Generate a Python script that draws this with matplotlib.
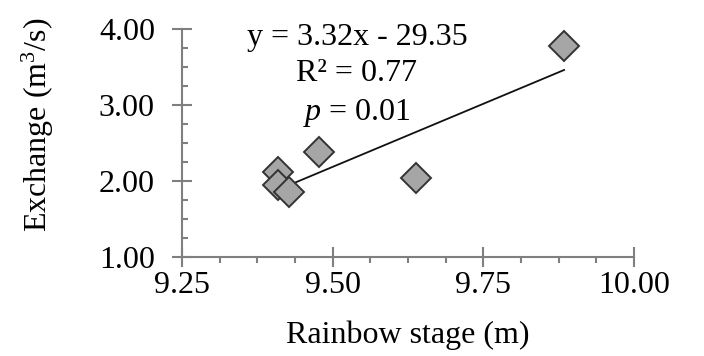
import numpy as np
import matplotlib.pyplot as plt
from matplotlib.ticker import MultipleLocator, FormatStrFormatter

# Dados
stage = [9.884, 9.478, 9.639, 9.410, 9.410, 9.428]
exchange = [3.78, 2.39, 2.04, 2.12, 1.95, 1.86]

slope = 3.32
intercept = -29.35
eq_lines = ["y = 3.32x - 29.35", "R² = 0.77", "$\\it{p}$ = 0.01"]
eq_y = [0.962, 0.808, 0.633]

plt.rcParams["font.family"] = ["Liberation Serif", "DejaVu Serif"]
plt.rcParams["mathtext.fontset"] = "custom"
plt.rcParams["mathtext.it"] = "Liberation Serif:italic"
plt.rcParams["mathtext.rm"] = "Liberation Serif"

fig = plt.figure(figsize=(7.04, 3.56), dpi=100)
ax = fig.add_axes([0.2585, 0.2772, 0.6421, 0.6405])

axis_color = "#7f7f7f"
fs = 23

# Linha de tendência
xs = np.array([min(stage), max(stage)])
ax.plot(xs, slope * xs + intercept, color="#111111", lw=1.3, zorder=2)

ax.plot(stage, exchange, linestyle="none", marker="D", markersize=15,
        markerfacecolor="#a6a6a6", markeredgecolor="#333333",
        markeredgewidth=1.4, zorder=3)

ax.set_xlim(9.25, 10.00)
ax.set_ylim(1.00, 4.00)
ax.xaxis.set_major_locator(MultipleLocator(0.25))
ax.xaxis.set_minor_locator(MultipleLocator(0.0625))
ax.yaxis.set_major_locator(MultipleLocator(1.0))
ax.yaxis.set_minor_locator(MultipleLocator(0.25))
ax.xaxis.set_major_formatter(FormatStrFormatter("%.2f"))
ax.yaxis.set_major_formatter(FormatStrFormatter("%.2f"))

for side in ["top", "right"]:
    ax.spines[side].set_visible(False)
for side in ["left", "bottom"]:
    ax.spines[side].set_color(axis_color)
    ax.spines[side].set_linewidth(1.5)

ax.tick_params(which="major", direction="inout", length=15, width=1.5,
               color=axis_color, labelsize=fs)
ax.tick_params(axis="y", which="major", pad=12)
ax.tick_params(axis="x", which="major", pad=2)
ax.tick_params(axis="y", which="minor", direction="in", length=4.5,
               width=1.5, color=axis_color)
ax.tick_params(axis="x", which="minor", direction="out", length=4.5,
               width=1.5, color=axis_color)

ax.set_xlabel("Rainbow stage (m)", fontsize=fs, labelpad=15)
ax.set_ylabel("Exchange (m$^3$/s)", fontsize=fs, labelpad=31, y=0.58)

# Equação da regressão
for txt, yy in zip(eq_lines, eq_y):
    ax.text(0.387, yy, txt, transform=ax.transAxes,
            ha="center", va="center", fontsize=fs)

fig.savefig("out.png", dpi=100)
